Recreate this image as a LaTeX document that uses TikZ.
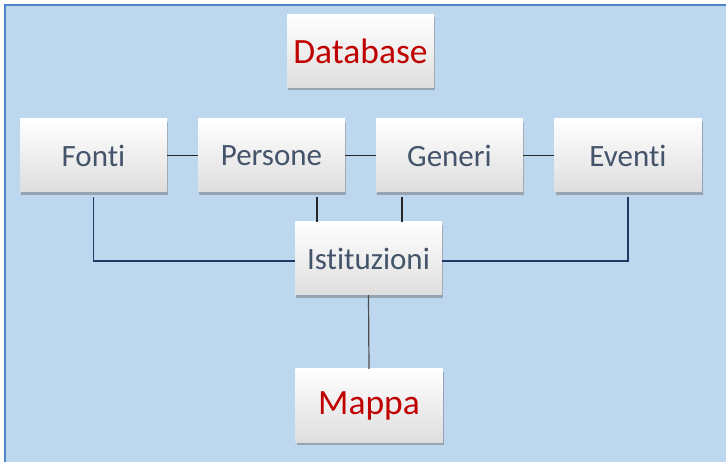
\documentclass[tikz,border=0pt]{standalone}
\usepackage{fontspec}
\setmainfont[Ligatures=NoCommon]{Carlito}
\definecolor{sheetblue}{RGB}{189,215,238}
\definecolor{framblue}{RGB}{74,134,200}
\definecolor{labelslate}{RGB}{68,84,106}
\definecolor{titlered}{RGB}{192,0,0}
\definecolor{linknavy}{RGB}{32,56,100}
\definecolor{linkdark}{RGB}{38,38,38}
\usetikzlibrary{shadows}

\begin{document}
\begin{tikzpicture}[x=1pt,y=-1pt,
    card/.style={rectangle, minimum width=147pt, minimum height=73pt, inner sep=0pt,
      top color=white, middle color=white, bottom color=black!13,
      drop shadow={shadow xshift=1pt, shadow yshift=-3pt, opacity=0.45, fill=black!60}},
    plain/.style={card, text=labelslate, font=\fontsize{31}{36}\selectfont},
    title/.style={card, text=titlered, font=\fontsize{35.5}{40}\selectfont},
    tie/.style={draw=linkdark, line width=1.2pt},
    branch/.style={draw=linknavy, line width=1.5pt}]
  \useasboundingbox (0,0) rectangle (726,462);
  \fill[sheetblue] (5,5) rectangle (726,462);
  \draw[framblue, line width=2pt] (5,462) -- (5,5) -- (726,5);

  \node[title] (database) at (360.5,51) {Database};
  \node[plain] (fonti) at (93.5,155.5) {Fonti};
  \node[plain] (persone) at (271.5,155.5) {Persone};
  \node[plain] (generi) at (449.5,155.5) {Generi};
  \node[plain] (eventi) at (628,155.5) {Eventi};
  \node[plain] (istituzioni) at (368.5,258.5) {Istituzioni};
  \node[title] (mappa) at (369,405.5) {Mappa};

  % rows of links
  \draw[tie] (fonti) -- (persone);
  \draw[tie] (persone) -- (generi);
  \draw[tie] (generi) -- (eventi);
  \draw[tie, shorten >=5pt] ([xshift=-51.5pt]istituzioni.north) -- ([xshift=-51.5pt]istituzioni.north |- persone.south);
  \draw[tie, shorten >=5pt] ([xshift=33.5pt]istituzioni.north) -- ([xshift=33.5pt]istituzioni.north |- generi.south);
  \draw[branch, shorten <=5pt] (fonti.south) |- ([yshift=-2.5pt]istituzioni.west);
  \draw[branch, shorten <=5pt] (eventi.south) |- ([yshift=-2.5pt]istituzioni.east);
  \draw[tie, draw=black!70] (istituzioni.south) -- (mappa.north);
\end{tikzpicture}
\end{document}
